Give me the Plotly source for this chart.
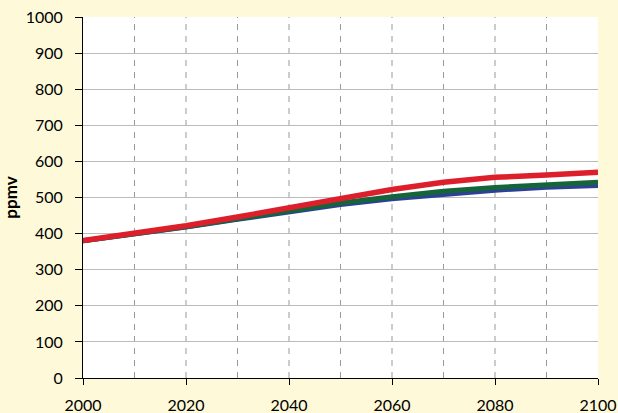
import plotly.graph_objects as go

years = [2000, 2010, 2020, 2030, 2040, 2050, 2060, 2070, 2080, 2090, 2100]
red = [381, 400, 422, 446, 471, 498, 522, 542, 556, 562, 570]
green = [380, 398, 419, 441, 463, 485, 502, 517, 528, 536, 542]
blue = [379, 397, 417, 438, 459, 479, 495, 508, 519, 527, 532]

fig = go.Figure()
fig.add_trace(go.Scatter(x=years, y=blue, mode="lines", line=dict(color="#2E3F98", width=4), showlegend=False))
fig.add_trace(go.Scatter(x=years, y=green, mode="lines", line=dict(color="#14663A", width=5), showlegend=False))
fig.add_trace(go.Scatter(x=years, y=red, mode="lines", line=dict(color="#DC1F2B", width=5.5), showlegend=False))

# dashed vertical gridlines every 10 years
for yr in years[1:-1]:
    fig.add_shape(type="line", x0=yr, x1=yr, y0=0, y1=1000, xref="x", yref="y",
                  line=dict(color="#999999", width=1, dash="6px,6px"), layer="below")

fig.update_layout(
    width=618, height=413,
    margin=dict(l=83, r=20, t=17, b=35),
    paper_bgcolor="#FEF9D8",
    plot_bgcolor="#FFFFFF",
    font=dict(family="Lato, sans-serif", size=16, color="#000000"),
    xaxis=dict(range=[2000, 2100], tickvals=[2000, 2020, 2040, 2060, 2080, 2100],
               showgrid=False, zeroline=False, showline=True, linecolor="#000000", linewidth=1,
               ticks="outside", ticklen=6, tickcolor="#000000", automargin=False,
               ticklabelstandoff=7),
    yaxis=dict(range=[0, 1000], dtick=100, showgrid=True, gridcolor="#BBBBBB", gridwidth=1,
               zeroline=False, showline=True, linecolor="#000000", linewidth=1,
               ticks="outside", ticklen=7, tickcolor="#000000", automargin=False,
               ticklabelstandoff=9,
               title=dict(text="<b>ppmv</b>", standoff=4, font=dict(size=17))),
)

fig.write_html("out.html", config={"displayModeBar": False},
               post_script="document.body.style.margin='0';document.body.style.overflow='hidden';")
